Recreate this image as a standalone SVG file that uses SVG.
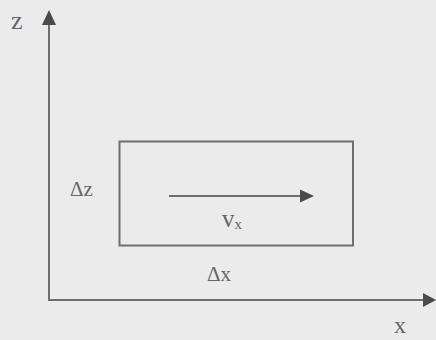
<svg xmlns="http://www.w3.org/2000/svg" width="436" height="340" viewBox="0 0 436 340">
<style>
.ln{stroke:#6e6e6e;stroke-width:2;fill:none}
.hd{fill:#4a4a4a}
.t{font-family:"Liberation Serif","Times New Roman",serif;fill:#666666}
</style>
<rect width="436" height="340" fill="#ebebeb"/>
<g id="connectors">
<line class="ln" x1="49" y1="300" x2="49" y2="22"/>
<polygon class="hd" points="49,10 42,25 56,25"/>
<line class="ln" x1="48" y1="300" x2="426" y2="300"/>
<polygon class="hd" points="436,300 423,293 423,307"/>
<line class="ln" x1="169" y1="196" x2="302" y2="196"/>
<polygon class="hd" points="314,196 300,189.5 300,202.5"/>
</g>
<g id="box">
<rect class="ln" x="119.5" y="141.5" width="233.5" height="104" stroke-width="1.8"/>
</g>
<g id="labels">
<text class="t" x="11" y="29" font-size="26">z</text>
<text class="t" x="394" y="333" font-size="24">x</text>
<text class="t" x="70" y="196" font-size="21">Δz</text>
<text class="t" x="207" y="281" font-size="21">Δx</text>
<text class="t" x="222" y="227" font-size="25">v<tspan font-size="15" dy="2">x</tspan></text>
</g>
</svg>
